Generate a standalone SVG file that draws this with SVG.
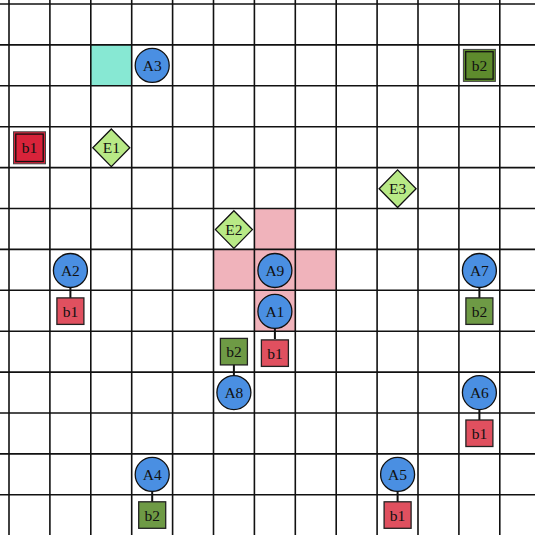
<svg xmlns="http://www.w3.org/2000/svg" width="535" height="535" viewBox="0 0 535 535">
<style>
.grid line{stroke:#111;stroke-width:1.6}
.ag circle{fill:#4a8fe2;stroke:#111;stroke-width:1.3}
.b1 rect{fill:#e0505f;stroke:#222;stroke-width:1.3}
.b2 rect{fill:#6e9a45;stroke:#222;stroke-width:1.3}
.db1{fill:#d8233a}
.db2{fill:#5e8b2d}
.dbl .o{stroke:#444;stroke-width:1}
.dbl .i{stroke:#111;stroke-width:1.3}
.en polygon{fill:#b8e986;stroke:#111;stroke-width:1.3}
text{font-family:"Liberation Serif","DejaVu Serif",serif;font-size:15.5px;text-anchor:middle;dominant-baseline:central;fill:#111}
.con line{stroke:#111;stroke-width:2}
</style>
<rect width="535" height="535" fill="#fff"/>
<g id="cells">
<rect x="90.8" y="44.9" width="40.9" height="40.9" fill="#87e8d3"/>
<rect x="254.4" y="208.5" width="40.9" height="40.9" fill="#f0b3bb"/>
<rect x="213.5" y="249.4" width="122.7" height="40.9" fill="#f0b3bb"/>
<rect x="254.4" y="290.3" width="40.9" height="40.9" fill="#f0b3bb"/>
</g>
<g class="grid">
<line x1="9" y1="0" x2="9" y2="535"/><line x1="49.9" y1="0" x2="49.9" y2="535"/><line x1="90.8" y1="0" x2="90.8" y2="535"/><line x1="131.7" y1="0" x2="131.7" y2="535"/><line x1="172.6" y1="0" x2="172.6" y2="535"/><line x1="213.5" y1="0" x2="213.5" y2="535"/><line x1="254.4" y1="0" x2="254.4" y2="535"/><line x1="295.3" y1="0" x2="295.3" y2="535"/><line x1="336.2" y1="0" x2="336.2" y2="535"/><line x1="377.1" y1="0" x2="377.1" y2="535"/><line x1="418" y1="0" x2="418" y2="535"/><line x1="458.9" y1="0" x2="458.9" y2="535"/><line x1="499.8" y1="0" x2="499.8" y2="535"/>
<line x1="0" y1="4" x2="535" y2="4"/><line x1="0" y1="44.9" x2="535" y2="44.9"/><line x1="0" y1="85.8" x2="535" y2="85.8"/><line x1="0" y1="126.7" x2="535" y2="126.7"/><line x1="0" y1="167.6" x2="535" y2="167.6"/><line x1="0" y1="208.5" x2="535" y2="208.5"/><line x1="0" y1="249.4" x2="535" y2="249.4"/><line x1="0" y1="290.3" x2="535" y2="290.3"/><line x1="0" y1="331.2" x2="535" y2="331.2"/><line x1="0" y1="372.1" x2="535" y2="372.1"/><line x1="0" y1="413" x2="535" y2="413"/><line x1="0" y1="453.9" x2="535" y2="453.9"/><line x1="0" y1="494.8" x2="535" y2="494.8"/>
</g>
<g id="connectors" class="con">
<line x1="274.9" y1="328" x2="274.9" y2="339"/>
<line x1="233.9" y1="364" x2="233.9" y2="376"/>
<line x1="70.4" y1="287" x2="70.4" y2="298"/>
<line x1="479.4" y1="287" x2="479.4" y2="298"/>
<line x1="479.4" y1="409" x2="479.4" y2="420"/>
<line x1="152.2" y1="491" x2="152.2" y2="502"/>
<line x1="397.6" y1="491" x2="397.6" y2="502"/>
</g>
<g id="b1-start" class="dbl"><rect class="o db1" x="13.5" y="131.8" width="32" height="32"/><rect class="i db1" x="15.8" y="134.1" width="27.4" height="27.4"/><text x="29.5" y="147.8">b1</text></g>
<g id="b2-start" class="dbl"><rect class="o db2" x="463.4" y="49.4" width="32" height="32"/><rect class="i db2" x="465.7" y="51.7" width="27.4" height="27.4"/><text x="479.4" y="65.4">b2</text></g>
<g id="E1" class="en"><polygon points="111.3,129 129.8,147.8 111.3,166.6 92.8,147.8"/><text x="111.3" y="147.8">E1</text></g>
<g id="E3" class="en"><polygon points="397.6,169.9 416.1,188.7 397.6,207.5 379.1,188.7"/><text x="397.6" y="188.7">E3</text></g>
<g id="E2" class="en"><polygon points="233.9,210.8 252.4,229.6 233.9,248.4 215.4,229.6"/><text x="233.9" y="229.6">E2</text></g>
<g id="A3" class="ag"><circle cx="152.2" cy="65.4" r="17"/><text x="152.2" y="65.4">A3</text></g>
<g id="A9" class="ag"><circle cx="274.9" cy="270.5" r="17"/><text x="274.9" y="270.5">A9</text></g>
<g id="A1" class="ag"><circle cx="274.9" cy="311.4" r="17"/><text x="274.9" y="311.4">A1</text></g>
<g id="A1-b1" class="b1"><rect x="261.4" y="339.9" width="27" height="26.5"/><text x="274.9" y="353.1">b1</text></g>
<g id="A8-b2" class="b2"><rect x="220.4" y="338.4" width="27" height="26.5"/><text x="233.9" y="351.6">b2</text></g>
<g id="A8" class="ag"><circle cx="233.9" cy="392.6" r="17"/><text x="233.9" y="392.6">A8</text></g>
<g id="A2" class="ag"><circle cx="70.4" cy="270.5" r="17"/><text x="70.4" y="270.5">A2</text></g>
<g id="A2-b1" class="b1"><rect x="56.9" y="297.9" width="27" height="26.5"/><text x="70.4" y="311.1">b1</text></g>
<g id="A7" class="ag"><circle cx="479.4" cy="270.5" r="17"/><text x="479.4" y="270.5">A7</text></g>
<g id="A7-b2" class="b2"><rect x="465.9" y="297.9" width="27" height="26.5"/><text x="479.4" y="311.1">b2</text></g>
<g id="A6" class="ag"><circle cx="479.4" cy="392.6" r="17"/><text x="479.4" y="392.6">A6</text></g>
<g id="A6-b1" class="b1"><rect x="465.9" y="420" width="27" height="26.5"/><text x="479.4" y="433.2">b1</text></g>
<g id="A4" class="ag"><circle cx="152.2" cy="474.4" r="17"/><text x="152.2" y="474.4">A4</text></g>
<g id="A4-b2" class="b2"><rect x="138.7" y="501.8" width="27" height="26.5"/><text x="152.2" y="515">b2</text></g>
<g id="A5" class="ag"><circle cx="397.6" cy="474.4" r="17"/><text x="397.6" y="474.4">A5</text></g>
<g id="A5-b1" class="b1"><rect x="384.1" y="501.8" width="27" height="26.5"/><text x="397.6" y="515">b1</text></g>
</svg>
